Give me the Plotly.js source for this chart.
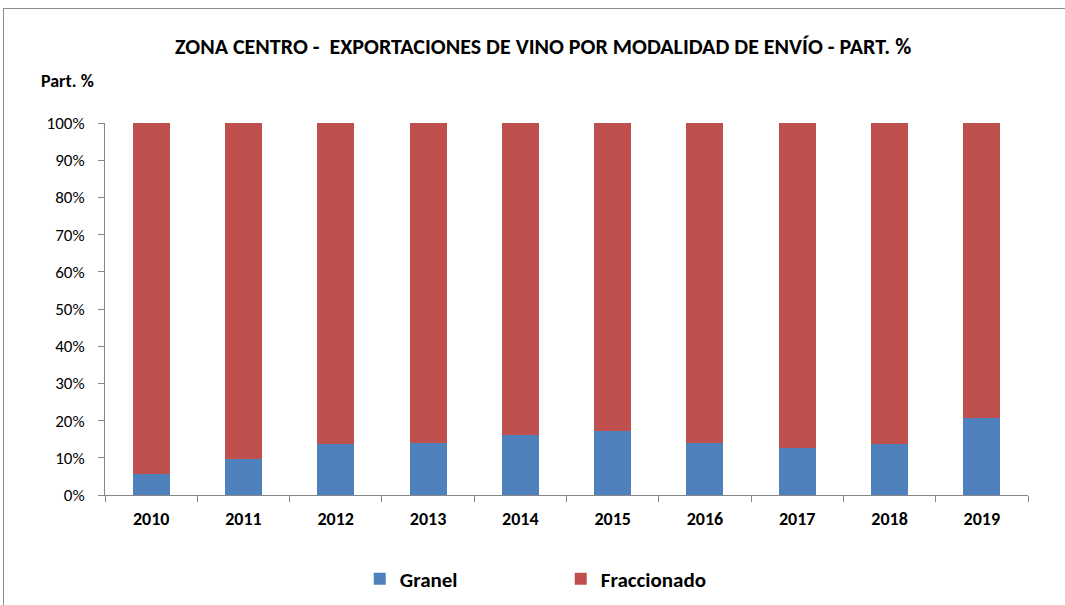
<!DOCTYPE html>
<html><head><meta charset="utf-8">
<script src="https://cdn.plot.ly/plotly-3.0.1.min.js"></script>
<style>
body{margin:0;padding:0;background:#fff;}
#wrap{position:relative;width:1065px;height:605px;overflow:hidden;}
#chart{width:1065px;height:605px;}
#frame{position:absolute;left:3px;top:8px;width:1080px;height:620px;border:1px solid #8c8c8c;pointer-events:none;}
</style></head>
<body>
<div id="wrap"><div id="chart"></div><div id="frame"></div></div>
<script>
const years = ['2010','2011','2012','2013','2014','2015','2016','2017','2018','2019'];
const granel = [5.6, 9.6, 13.7, 13.9, 16.1, 17.2, 13.9, 12.7, 13.7, 20.8];
const fraccionado = granel.map(v => 100 - v);
const titleText = 'ZONA CENTRO -  EXPORTACIONES DE VINO POR MODALIDAD DE ENVÍO - PART. %';
const yTickVals = [0,10,20,30,40,50,60,70,80,90,100];
const yTickText = ['0%','10%','20%','30%','40%','50%','60%','70%','80%','90%','100%'];

const FONT = "Carlito, Calibri, 'Liberation Sans Narrow', 'Liberation Sans', sans-serif";

const traces = [
  {type:'bar', name:'Granel', x:years, y:granel, marker:{color:'#4F81BD'}, width:0.4, hoverinfo:'none'},
  {type:'bar', name:'Fraccionado', x:years, y:fraccionado, marker:{color:'#C0504D'}, width:0.4, hoverinfo:'none'}
];

const layout = {
  width:1065, height:605,
  barmode:'stack',
  margin:{l:105, r:37, t:123, b:110, autoexpand:false},
  paper_bgcolor:'#fff', plot_bgcolor:'#fff',
  font:{family:FONT, color:'#000'},
  showlegend:true,
  title:{text:'<b>'+titleText+'</b>', x:0.51, xanchor:'center', yref:'container', y:0.924, yanchor:'middle', font:{size:22, family:FONT, color:'#000'}},
  xaxis:{type:'category', showline:true, linecolor:'#868686', linewidth:1, ticks:'outside', tickson:'boundaries', ticklen:6, tickcolor:'#868686',
         ticklabelstandoff:7,
         tickfont:{size:18, family:FONT, color:'#000', weight:'bold'}, showgrid:false, zeroline:false, fixedrange:true},
  yaxis:{range:[0,100], tickvals:yTickVals, ticktext:yTickText, showline:true, linecolor:'#868686', linewidth:1, ticks:'outside', ticklen:6, tickcolor:'#868686',
         ticklabelstandoff:10,
         tickfont:{size:17, family:FONT, color:'#000'}, showgrid:false, zeroline:false, fixedrange:true},
  legend:{orientation:'h', x:0.276, xanchor:'left', yref:'container', y:0.043, yanchor:'middle', entrywidth:156, entrywidthmode:'pixels',
          font:{size:21, family:FONT, color:'#000', weight:'bold'}, traceorder:'normal'},
  annotations:[
    {text:'<b>Part. %</b>', xref:'paper', yref:'paper', x:-0.072, xanchor:'left', y:1.112, yanchor:'middle', showarrow:false, font:{size:18, family:FONT, color:'#000'}}
  ]
};
Plotly.newPlot('chart', traces, layout, {displayModeBar:false, staticPlot:true});
</script>
</body></html>
